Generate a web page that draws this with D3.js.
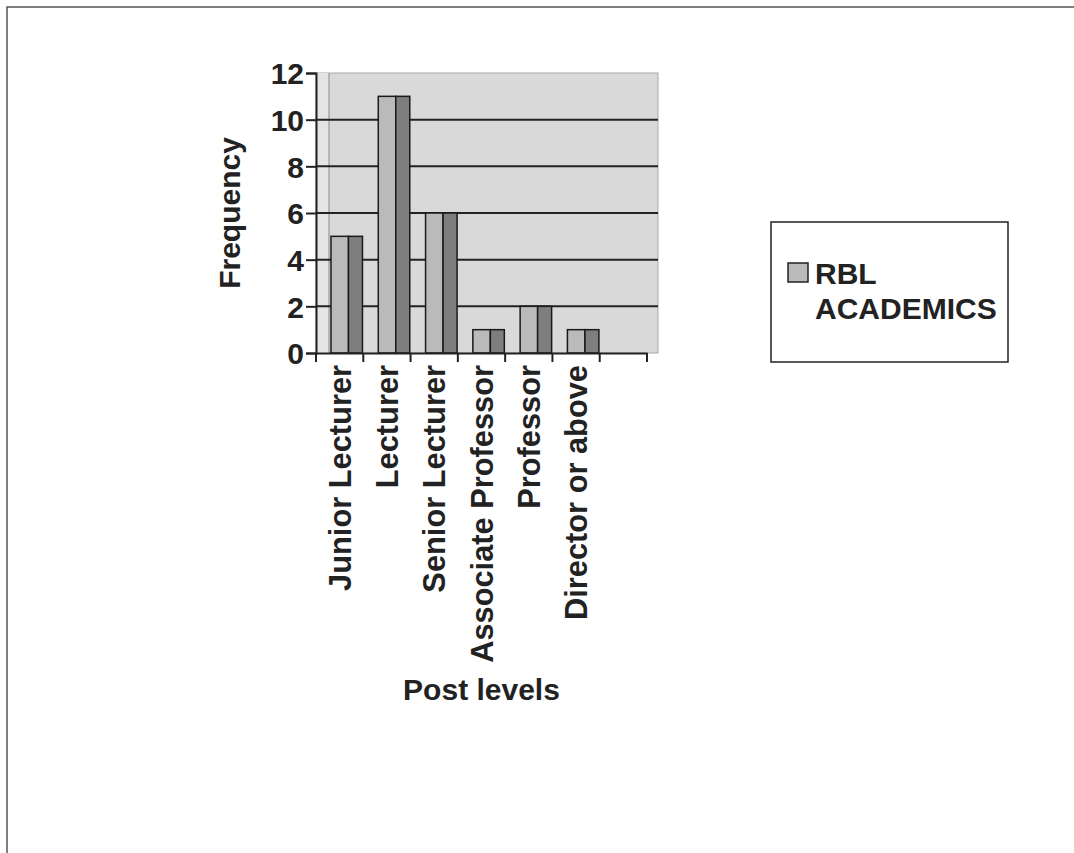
<!DOCTYPE html>
<html><head><meta charset="utf-8">
<script src="https://cdn.jsdelivr.net/npm/d3@7"></script>
<style>
body{margin:0;background:#fff;}
text{font-family:"Liberation Sans",Arial,sans-serif;font-weight:bold;fill:#222;}
</style></head>
<body><svg id="c" width="1074" height="853"></svg>
<script>
const categories = ["Junior Lecturer","Lecturer","Senior Lecturer","Associate Professor","Professor","Director or above"];
const values = [5, 11, 6, 1, 2, 1];
const yTicks = [0, 2, 4, 6, 8, 10, 12];
const seriesName = ["RBL", "ACADEMICS"];

const svg = d3.select("#c");
const L = 316, R = 647, T = 73, B = 353, wallR = 658;
svg.append("rect").attr("x",7).attr("y",7).attr("width",1100).attr("height",900)
  .attr("fill","#fff").attr("stroke","#555").attr("stroke-width",1.5);

const x = d3.scaleBand().domain([...categories, "_blank"]).range([L, R]).padding(0);
const y = d3.scaleLinear().domain([0, 12]).range([B, T]);

// back wall
svg.append("rect").attr("x",L).attr("y",T).attr("width",wallR-L).attr("height",B-T)
  .attr("fill","#d9d9d9").attr("stroke","#aaa").attr("stroke-width",1);
svg.append("rect").attr("x",L).attr("y",T).attr("width",13).attr("height",B-T)
  .attr("fill","#e4e4e4");
svg.append("line").attr("x1",L+13).attr("x2",L+13).attr("y1",T).attr("y2",B)
  .attr("stroke","#999").attr("stroke-width",1.2);

// gridlines
svg.selectAll(".g").data(yTicks.filter(d=>d>0 && d<12)).join("line")
  .attr("x1",L).attr("x2",wallR).attr("y1",d=>y(d)).attr("y2",d=>y(d))
  .attr("stroke","#222").attr("stroke-width",2);

// bars
const bw = x.bandwidth();
const g = svg.append("g");
categories.forEach((c,i)=>{
  const x0 = x(c);
  g.append("rect").attr("x",x0+bw*0.317).attr("y",y(values[i])).attr("width",bw*0.37)
    .attr("height",B-y(values[i])).attr("fill","#bababa").attr("stroke","#1a1a1a").attr("stroke-width",1.5);
  g.append("rect").attr("x",x0+bw*0.687).attr("y",y(values[i])).attr("width",bw*0.296)
    .attr("height",B-y(values[i])).attr("fill","#7e7e7e").attr("stroke","#1a1a1a").attr("stroke-width",1.5);
});

// y axis
const ya = svg.append("g").attr("transform",`translate(${L},0)`)
  .call(d3.axisLeft(y).tickValues(yTicks).tickSize(10).tickPadding(2));
ya.select(".domain").attr("stroke","#222").attr("stroke-width",2);
ya.selectAll(".tick line").attr("stroke","#222").attr("stroke-width",2);
ya.selectAll("text").style("font-size","30px").attr("fill","#222").attr("dy","0.36em");

// x axis
const xa = svg.append("g").attr("transform",`translate(0,${B})`)
  .call(d3.axisBottom(x).tickSize(0).tickFormat(d=>d==="_blank"?"":d));
xa.select(".domain").attr("stroke","#222").attr("stroke-width",2);
xa.selectAll(".tick text").style("font-size","30.8px").attr("fill","#222")
  .attr("transform","rotate(-90)").attr("text-anchor","end")
  .attr("x",-12).attr("y",0).attr("dy","0.36em");
const edges = [...categories, "_blank"].map(c=>x(c)).concat([R]);
svg.selectAll(".xt").data(edges).join("line")
  .attr("x1",d=>d).attr("x2",d=>d).attr("y1",B).attr("y2",B+9)
  .attr("stroke","#222").attr("stroke-width",2);

// axis titles
svg.append("text").attr("x",(L+R)/2).attr("y",700).attr("text-anchor","middle")
  .style("font-size","30px").text("Post levels");
svg.append("text").attr("transform",`translate(240,${(T+B)/2}) rotate(-90)`)
  .attr("text-anchor","middle").style("font-size","30px").text("Frequency");

// legend
svg.append("rect").attr("x",771).attr("y",222).attr("width",237).attr("height",140)
  .attr("fill","#fff").attr("stroke","#222").attr("stroke-width",1.5);
svg.append("rect").attr("x",788).attr("y",263).attr("width",20).attr("height",19)
  .attr("fill","#bababa").attr("stroke","#222").attr("stroke-width",1.5);
const lt = svg.append("text").style("font-size","30px");
lt.append("tspan").attr("x",815).attr("y",284).text(seriesName[0]);
lt.append("tspan").attr("x",815).attr("y",319).text(seriesName[1]);
</script></body></html>
